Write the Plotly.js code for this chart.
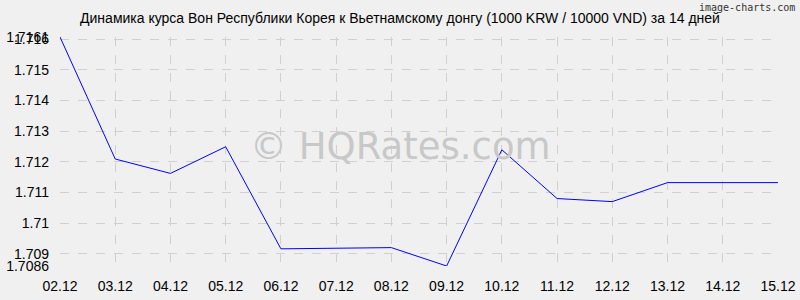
<!DOCTYPE html>
<html>
<head>
<meta charset="utf-8">
<script src="https://cdn.plot.ly/plotly-3.0.1.min.js"></script>
<style>
html,body{margin:0;padding:0;background:#f0f0f0;}
#chart{width:800px;height:300px;}
</style>
</head>
<body>
<div id="chart"></div>
<script>
const dates = ["02.12","03.12","04.12","05.12","06.12","07.12","08.12","09.12","10.12","11.12","12.12","13.12","14.12","15.12"];
const rates = [1.71607,1.71209,1.71162,1.71249,1.70916,1.70918,1.70920,1.70860,1.71239,1.71080,1.71070,1.71132,1.71132,1.71132];
const yTickVals = [1.709,1.710,1.711,1.712,1.713,1.714,1.715,1.716];
const yTickText = ["1.709","1.71","1.711","1.712","1.713","1.714","1.715","1.716"];
const minLabel = "1.7086";
const maxLabel = "1.7161";
const titleText = "Динамика курса Вон Республики Корея к Вьетнамскому донгу (1000 KRW / 10000 VND) за 14 дней";

const yMin = Math.min(...rates), yMax = Math.max(...rates);

Plotly.newPlot('chart', [{
  x: dates, y: rates, type: 'scatter', mode: 'lines',
  line: {color: '#0000ff', width: 1}, hoverinfo: 'none'
}], {
  width: 800, height: 300,
  paper_bgcolor: '#f0f0f0', plot_bgcolor: '#f0f0f0',
  margin: {l: 60, r: 22, t: 37, b: 34},
  showlegend: false,
  title: {text: titleText, x: 0.5, xanchor: 'center', y: 0.94, yanchor: 'middle',
          font: {family: 'Liberation Sans, Arial, sans-serif', size: 14, color: '#000'}},
  font: {family: 'Liberation Sans, Arial, sans-serif', size: 14, color: '#000'},
  xaxis: {type: 'category', range: [0, dates.length - 1], showgrid: true,
          gridcolor: '#d0d0d0', griddash: 'dash', gridwidth: 1,
          zeroline: false, showline: false, ticks: '', ticklen: 0,
          ticklabelstandoff: 10,
          tickfont: {size: 14, color: '#000'}, fixedrange: true},
  yaxis: {range: [yMin, yMax], tickmode: 'array',
          tickvals: [yMin].concat(yTickVals, [yMax]),
          ticktext: [minLabel].concat(yTickText, [maxLabel]),
          showgrid: true, gridcolor: '#d0d0d0', griddash: 'dash', gridwidth: 1,
          zeroline: false, showline: false, ticks: '', ticklen: 0,
          ticklabelstandoff: 10,
          tickfont: {size: 14, color: '#000'}, fixedrange: true},
  annotations: [
    {text: '© HQRates.com', xref: 'paper', yref: 'paper', x: (400 - 60) / 718, y: 0.52,
     xanchor: 'center', yanchor: 'middle', showarrow: false,
     font: {family: 'DejaVu Sans, sans-serif', size: 37, color: '#c8c8c8'}},
    {text: 'image-charts.com', xref: 'paper', yref: 'paper', x: 1.027, y: 1.16,
     xanchor: 'right', yanchor: 'top', showarrow: false,
     font: {family: 'DejaVu Sans Mono, monospace', size: 10, color: '#333'}}
  ]
}, {staticPlot: true});
</script>
</body>
</html>
